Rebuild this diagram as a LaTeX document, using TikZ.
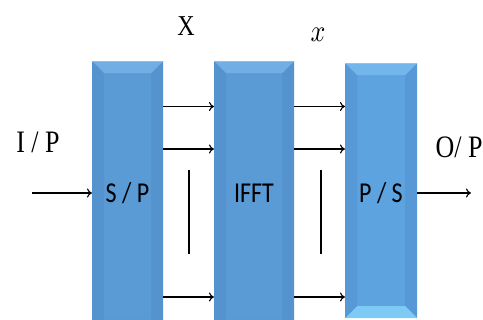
\documentclass[tikz,border=0pt]{standalone}
\usepackage{fontspec}
\setmainfont{Liberation Serif}
\newfontfamily\boxfont{Carlito}
\usetikzlibrary{arrows.meta}
\definecolor{boxmain}{HTML}{5B9BD5}
\definecolor{boxlight}{HTML}{72ADE3}
\definecolor{boxside}{HTML}{5493CD}
\definecolor{boxbot}{HTML}{5A98D2}
\definecolor{psmain}{HTML}{5DA3DF}
\definecolor{pslight}{HTML}{72B6EB}
\definecolor{psside}{HTML}{5699D6}
\definecolor{psbot}{HTML}{7DCAF4}
\tikzset{
  bevbox/.style args={#1/#2/#3/#4}{rectangle, fill=#1, inner sep=0pt,
    path picture={
      \coordinate (bl) at (path picture bounding box.south west);
      \coordinate (tr) at (path picture bounding box.north east);
      \fill[#3] (bl |- tr) -- ([xshift=12pt,yshift=-12pt]bl |- tr) -- ([xshift=12pt,yshift=12pt]bl) -- (bl) -- cycle;
      \fill[#3] (tr) -- (tr |- bl) -- ([xshift=-12pt,yshift=12pt]tr |- bl) -- ([xshift=-12pt,yshift=-12pt]tr) -- cycle;
      \fill[#4] (bl) -- (tr |- bl) -- ([xshift=-12pt,yshift=12pt]tr |- bl) -- ([xshift=12pt,yshift=12pt]bl) -- cycle;
      \fill[#2] (bl |- tr) -- (tr) -- ([xshift=-12pt,yshift=-12pt]tr) -- ([xshift=12pt,yshift=-12pt]bl |- tr) -- cycle;
      \fill[#2!80!white] (bl |- tr) rectangle ([yshift=-1.2pt]tr);
    }},
  boxtext/.style={font=\boxfont\fontsize{24}{24}\selectfont},
  lbl/.style={inner sep=0pt},
  arr/.style={line width=1.1pt, -{To[length=5pt,width=9pt]}},
  bar/.style={line width=1.1pt}
}
\newcommand\tallA[1]{\scalebox{1}[1.2]{#1}}
\begin{document}
\begin{tikzpicture}[x=1pt,y=-1pt]
\useasboundingbox (0,0) rectangle (483,320);
% boxes
\node[bevbox=boxmain/boxlight/boxside/boxbot, minimum width=71pt, minimum height=270pt, anchor=north west] (sp) at (92,61) {};
\node[bevbox=boxmain/boxlight/boxside/boxbot, minimum width=80pt, minimum height=270pt, anchor=north west] (ifft) at (214,61) {};
\node[bevbox=psmain/pslight/psside/psbot, minimum width=72pt, minimum height=255pt, anchor=north west] (ps) at (345,63) {};
% box texts
\node[boxtext] (sptxt) at (127.5,193) {\tallA{S / P}};
\node[boxtext] (iffttxt) at (254,193) {\tallA{IFFT}};
\node[boxtext] (pstxt) at (381,193) {\tallA{P / S}};
% labels
\node[lbl, font=\fontsize{24}{24}\selectfont] (X) at (186,26) {\tallA{X}};
\node[lbl] (xs) at (318,35) {\scalebox{2.6}[3.1]{$x$}};
\node[lbl, font=\fontsize{26}{26}\selectfont] (ip) at (38,142) {\tallA{I / P}};
\node[lbl, font=\fontsize{26}{26}\selectfont] (op) at (459,147) {\tallA{O/ P}};
% in/out
\coordinate (in) at (32,193);
\coordinate (out) at (471,193);
\draw[arr] (in) -- (sp.west |- in);
\draw[arr] (ps.east |- out) -- (out);
% parallel arrows
\foreach \yy in {106.5,149,297}{
  \draw[arr] (sp.east |- 0,\yy) -- (ifft.west |- 0,\yy);
  \draw[arr] (ifft.east |- 0,\yy) -- (ps.west |- 0,\yy);
}
\coordinate (b1a) at (189,170); \coordinate (b1b) at (189,254);
\coordinate (b2a) at (321,170); \coordinate (b2b) at (321,254);
\draw[bar] (b1a) -- (b1b);
\draw[bar] (b2a) -- (b2b);
\end{tikzpicture}
\end{document}
